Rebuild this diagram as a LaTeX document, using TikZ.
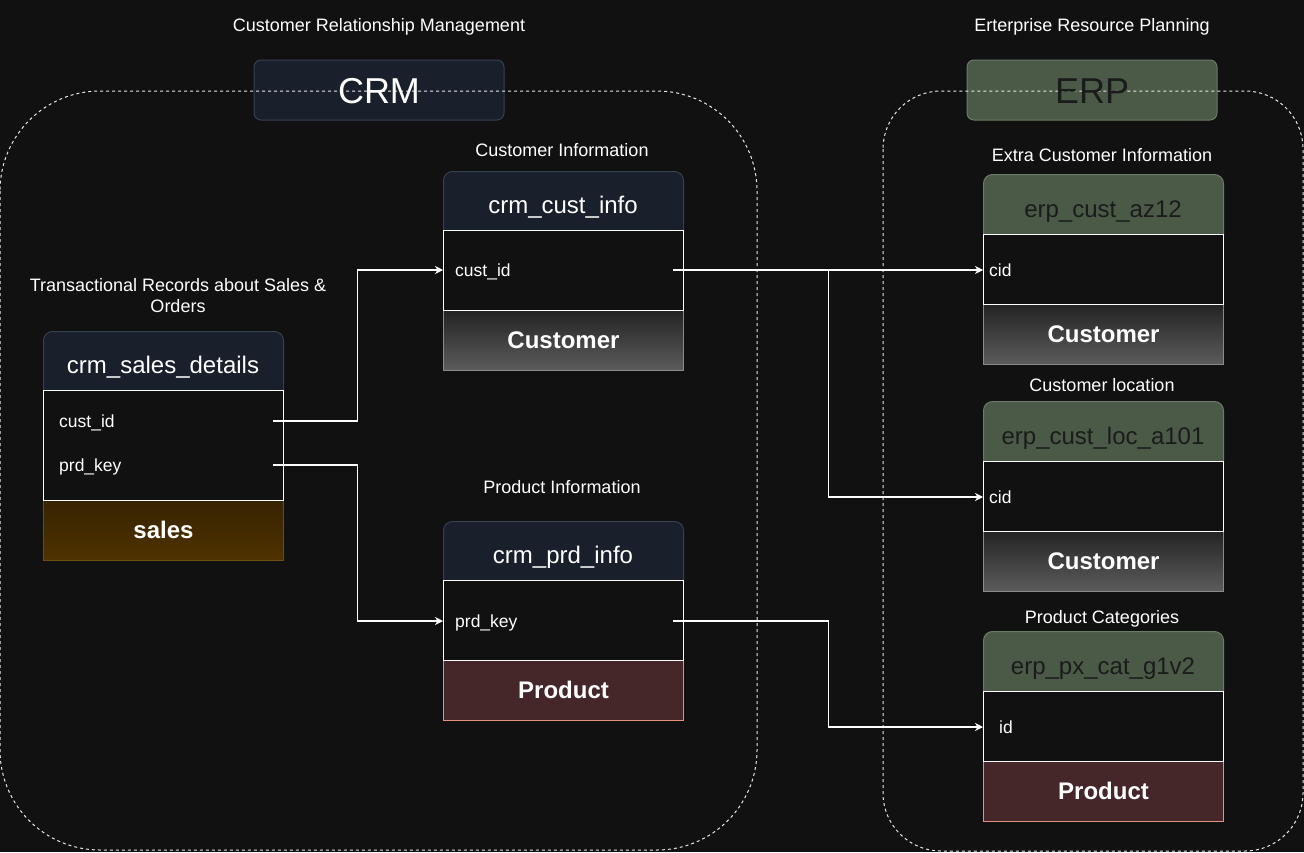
\documentclass[tikz,border=0pt]{standalone}
\usepackage{fontspec}
\setmainfont{Liberation Sans}
\usetikzlibrary{arrows.meta,calc}
\definecolor{bg}{HTML}{111111}
\definecolor{navy}{HTML}{19202B}
\definecolor{navyb}{HTML}{36404F}
\definecolor{olive}{HTML}{4B5A47}
\definecolor{oliveb}{HTML}{6C7B68}
\definecolor{darktxt}{HTML}{1B1B1B}
\definecolor{gtop}{HTML}{242424}
\definecolor{gbot}{HTML}{5C5C5C}
\definecolor{gbord}{HTML}{8A8A8A}
\definecolor{stop}{HTML}{362300}
\definecolor{sbot}{HTML}{4F3300}
\definecolor{sbord}{HTML}{6E4D11}
\definecolor{pfill}{HTML}{45272A}
\definecolor{pbord}{HTML}{E6917F}
\definecolor{dashc}{HTML}{E8E8E8}
\begin{document}
\begin{tikzpicture}[x=1bp,y=-1bp,
  txt/.style={inner sep=0pt, text depth=0pt, text=white},
  small/.style={txt, text height=12.1bp, font=\fontsize{17.5bp}{21bp}\selectfont},
  ttl/.style={txt, text height=12.5bp, font=\fontsize{18bp}{21bp}\selectfont},
  hname/.style={txt, text height=16.6bp, font=\fontsize{24bp}{28bp}\selectfont},
  fname/.style={txt, text height=16.6bp, font=\fontsize{24bp}{28bp}\selectfont\bfseries},
  bigname/.style={txt, text height=24.9bp, font=\fontsize{36bp}{40bp}\selectfont},
  bigbox/.style={draw, line width=1bp, rounded corners=7bp, minimum width=250bp, minimum height=60bp, inner sep=0pt},
  hdr/.style={draw, line width=1bp, rounded corners=9bp, minimum width=240bp, minimum height=70bp, anchor=north west, inner sep=0pt},
  bodybox/.style={draw=white, fill=bg, line width=1bp, minimum width=240bp, anchor=north west, inner sep=0pt},
  footbox/.style={line width=1bp, minimum width=240bp, minimum height=60bp, anchor=north west, inner sep=0pt},
  custfoot/.style={footbox, top color=gtop, bottom color=gbot, draw=gbord},
  salesfoot/.style={footbox, top color=stop, bottom color=sbot, draw=sbord},
  prodfoot/.style={footbox, fill=pfill, draw=pbord},
  row/.style={small, anchor=west, align=left, text width=#1},
  container/.style={draw=dashc, line width=1bp, dash pattern=on 3bp off 3bp},
  conn/.style={draw=white, line width=1.2bp, -{Stealth[length=8bp,width=8bp,inset=2.5bp]}}
]
\useasboundingbox (0,0) rectangle (1304,852);
\fill[bg] (0,0) rectangle (1304,852);

% ---------- top titles and system boxes ----------
\node[ttl] (crmtitle) at (379,25) {Customer Relationship Management};
\node[ttl] (erptitle) at (1092,25) {Erterprise Resource Planning};
\node[bigbox, fill=navy, draw=navyb] (crmbox) at (379,90) {};
\node[bigbox, fill=olive, draw=oliveb] (erpbox) at (1092,90) {};

% ---------- containers ----------
\draw[container, rounded corners=100bp] (0,91) rectangle (757,850);
\draw[container, rounded corners=58bp] (883,91) rectangle (1303,851);
\node[bigname] (crmlabel) at (379,91) {CRM};
\node[bigname, text=darktxt] (erplabel) at (1092,91) {ERP};

% ---------- crm_sales_details ----------
\node[ttl] (sdtitle1) at (178,285) {Transactional Records about Sales \&};
\node[ttl] (sdtitle2) at (178,306) {Orders};
\node[hdr, fill=navy, draw=navyb] (sdh) at (43,331) {};
\node[salesfoot] (sdf) at (43,500) {};
\node[fname] (sdfl) at (sdf.center) {sales};
\node[bodybox, minimum height=110bp] (sdb) at (43,390) {};
\node[hname] (sdn) at (163,365) {crm\_sales\_details};
\node[row=198bp, inner xsep=16bp] (scust) at (43,421) {cust\_id};
\node[row=198bp, inner xsep=16bp] (sprd) at (43,465) {prd\_key};

% ---------- crm_cust_info ----------
\node[ttl] (cctitle) at (562,150) {Customer Information};
\node[hdr, fill=navy, draw=navyb] (cch) at (443,171) {};
\node[custfoot] (ccf) at (443,310) {};
\node[fname] (ccfl) at (ccf.center) {Customer};
\node[bodybox, minimum height=80bp] (ccb) at (443,230) {};
\node[hname] (ccn) at (563,205) {crm\_cust\_info};
\node[row=206bp, inner xsep=12bp] (ccust) at (443,270) {cust\_id};

% ---------- crm_prd_info ----------
\node[ttl] (prtitle) at (562,487) {Product Information};
\node[hdr, fill=navy, draw=navyb] (prh) at (443,521) {};
\node[prodfoot] (prf) at (443,660) {};
\node[fname] (prfl) at (prf.center) {Product};
\node[bodybox, minimum height=80bp] (prb) at (443,580) {};
\node[hname] (prn) at (563,555) {crm\_prd\_info};
\node[row=206bp, inner xsep=12bp] (pprd) at (443,621) {prd\_key};

% ---------- erp_cust_az12 ----------
\node[ttl] (eatitle) at (1102,155) {Extra Customer Information};
\node[hdr, fill=olive, draw=oliveb] (eah) at (983,174) {};
\node[custfoot] (eaf) at (983,304) {};
\node[fname] (eafl) at (eaf.center) {Customer};
\node[bodybox, minimum height=70bp] (eab) at (983,234) {};
\node[hname, text=darktxt] (ean) at (1103,209.5) {erp\_cust\_az12};
\node[row=200bp, inner xsep=6bp] (eacid) at (983,270) {cid};

% ---------- erp_cust_loc_a101 ----------
\node[ttl] (eltitle) at (1102,385) {Customer location};
\node[hdr, fill=olive, draw=oliveb] (elh) at (983,401) {};
\node[custfoot] (elf) at (983,531) {};
\node[fname] (elfl) at (elf.center) {Customer};
\node[bodybox, minimum height=70bp] (elb) at (983,461) {};
\node[hname, text=darktxt] (eln) at (1103,436.5) {erp\_cust\_loc\_a101};
\node[row=200bp, inner xsep=6bp] (elcid) at (983,497) {cid};

% ---------- erp_px_cat_g1v2 ----------
\node[ttl] (eptitle) at (1102,617) {Product Categories};
\node[hdr, fill=olive, draw=oliveb] (eph) at (983,631) {};
\node[prodfoot] (epf) at (983,761) {};
\node[fname] (epfl) at (epf.center) {Product};
\node[bodybox, minimum height=70bp] (epb) at (983,691) {};
\node[hname, text=darktxt] (epn) at (1103,666.5) {erp\_px\_cat\_g1v2};
\node[row=190bp, inner xsep=16bp] (epid) at (983,727) {id};

% ---------- connectors ----------
\draw[conn] (scust.east) -- ++(84,0) |- (ccust.west);
\draw[conn] (sprd.east) -- ++(84,0) |- (pprd.west);
\draw[conn] (ccust.east) -- (eacid.west);
\draw[conn] (ccust.east) -- ++(155,0) |- (elcid.west);
\draw[conn] (pprd.east) -- ++(155,0) |- (epid.west);
\end{tikzpicture}
\end{document}
